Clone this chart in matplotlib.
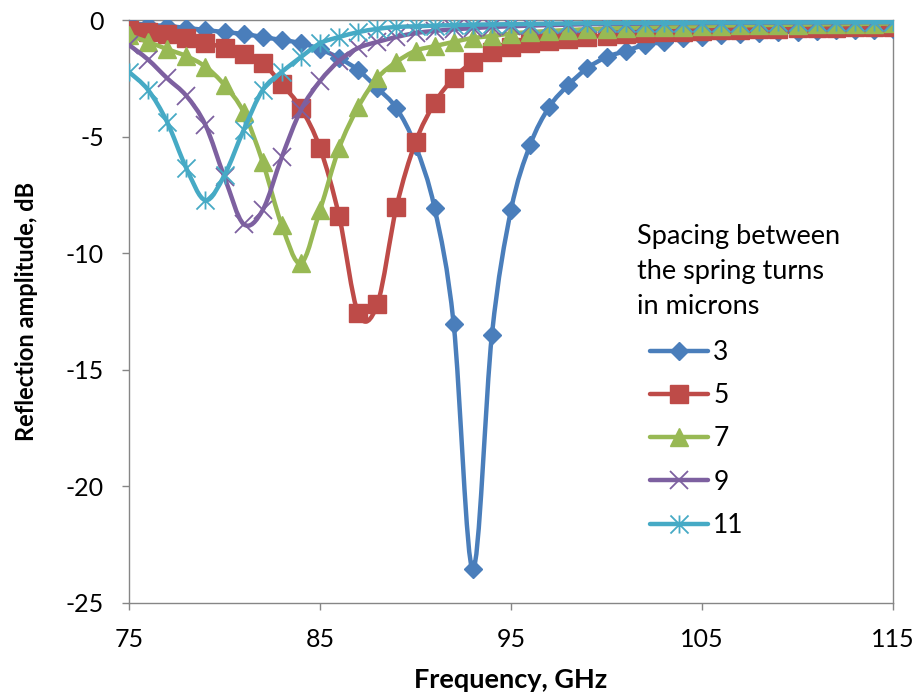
import numpy as np
import matplotlib
matplotlib.use("Agg")
import matplotlib.pyplot as plt
from matplotlib.path import Path
from matplotlib.patches import PathPatch
from matplotlib.lines import Line2D

plt.rcParams['font.family'] = ['Lato', 'DejaVu Sans']
plt.rcParams['axes.unicode_minus'] = False

freq = list(range(75, 116))

s3 = [-0.13, -0.21, -0.26, -0.34, -0.43, -0.52, -0.60, -0.73, -0.86, -0.99,
      -1.25, -1.63, -2.15, -2.92, -3.78, -5.40, -8.07, -13.05, -23.56, -13.50,
      -8.15, -5.36, -3.73, -2.79, -2.06, -1.59, -1.33, -1.07, -0.94, -0.77,
      -0.73, -0.64, -0.60, -0.56, -0.52, -0.50, -0.47, -0.45, -0.43, -0.42, -0.40]
s5 = [-0.45, -0.52, -0.60, -0.78, -0.97, -1.20, -1.45, -1.85, -2.75, -3.78,
      -5.49, -8.41, -12.58, -12.19, -8.03, -5.24, -3.56, -2.49, -1.80, -1.37,
      -1.16, -0.99, -0.88, -0.80, -0.73, -0.67, -0.62, -0.57, -0.53, -0.50,
      -0.47, -0.44, -0.42, -0.40, -0.38, -0.36, -0.34, -0.33, -0.31, -0.30, -0.29]
s7 = [-0.66, -0.94, -1.25, -1.55, -2.00, -2.79, -3.95, -6.09, -8.80, -10.43,
      -8.15, -5.49, -3.73, -2.49, -1.80, -1.32, -1.12, -0.94, -0.77, -0.69,
      -0.58, -0.52, -0.47, -0.43, -0.40, -0.37, -0.34, -0.32, -0.30, -0.28,
      -0.26, -0.24, -0.23, -0.22, -0.21, -0.20, -0.19, -0.18, -0.17, -0.16, -0.15]
s9 = [-1.07, -1.70, -2.50, -3.25, -4.50, -6.74, -8.75, -8.15, -5.88, -3.86,
      -2.62, -1.75, -1.20, -0.94, -0.73, -0.56, -0.47, -0.40, -0.35, -0.30,
      -0.27, -0.24, -0.22, -0.20, -0.18, -0.17, -0.16, -0.15, -0.14, -0.13,
      -0.13, -0.12, -0.12, -0.11, -0.11, -0.10, -0.10, -0.10, -0.09, -0.09, -0.09]
s11 = [-2.23, -3.00, -4.38, -6.35, -7.73, -6.65, -4.72, -3.00, -2.23, -1.59,
       -1.00, -0.73, -0.52, -0.38, -0.30, -0.27, -0.24, -0.22, -0.20, -0.19,
       -0.18, -0.17, -0.16, -0.15, -0.14, -0.14, -0.13, -0.13, -0.12, -0.12,
       -0.11, -0.11, -0.11, -0.10, -0.10, -0.10, -0.10, -0.09, -0.09, -0.09, -0.09]

series_labels = ['3', '5', '7', '9', '11']
series_values = [s3, s5, s7, s9, s11]
legend_title = 'Spacing between\nthe spring turns\nin microns'
x_ticks = [75, 85, 95, 105, 115]
y_ticks = [0, -5, -10, -15, -20, -25]

colors = ['#4A7EBB', '#BE4B48', '#98B954', '#7D60A0', '#46AAC5']
asterisk = Path([(-0.5, -0.5), (0.5, 0.5), (-0.5, 0.5), (0.5, -0.5), (0, -0.5), (0, 0.5)],
                [Path.MOVETO, Path.LINETO, Path.MOVETO, Path.LINETO, Path.MOVETO, Path.LINETO])
markers = [dict(marker='D', markersize=9.5),
           dict(marker='s', markersize=13),
           dict(marker='^', markersize=13),
           dict(marker='x', markersize=12.5, markeredgewidth=1.3),
           dict(marker=asterisk, markersize=13, markeredgewidth=1.3)]


def smooth_path(x, y):
    x = np.asarray(x, float)
    y = np.asarray(y, float)
    n = len(x)
    verts = [(x[0], y[0])]
    codes = [Path.MOVETO]
    for i in range(n - 1):
        i0 = max(i - 1, 0)
        i3 = min(i + 2, n - 1)
        c1 = (x[i] + (x[i + 1] - x[i0]) / 6.0, y[i] + (y[i + 1] - y[i0]) / 6.0)
        c2 = (x[i + 1] - (x[i3] - x[i]) / 6.0, y[i + 1] - (y[i3] - y[i]) / 6.0)
        verts += [c1, c2, (x[i + 1], y[i + 1])]
        codes += [Path.CURVE4] * 3
    return Path(verts, codes)


fig = plt.figure(figsize=(9.18, 6.97), dpi=100)
ax = fig.add_axes([129 / 918, 1 - 603 / 697, (893 - 129) / 918, (603 - 20) / 697])

LW = 3.2
handles = []
for k, (lab, vals, col, mk) in enumerate(zip(series_labels, series_values, colors, markers)):
    patch = PathPatch(smooth_path(freq, vals), fill=False, edgecolor=col, lw=LW,
                      capstyle='round', joinstyle='round', zorder=3 + 2 * k)
    ax.add_patch(patch)
    ax.plot(freq, vals, linestyle='none', color=col, markerfacecolor=col,
            markeredgecolor=col, zorder=4 + 2 * k, **mk)
    handles.append(Line2D([], [], color=col, lw=LW, solid_capstyle='round',
                          markerfacecolor=col, markeredgecolor=col, **mk))

ax.set_xlim(75, 115)
ax.set_ylim(-25, 0)
ax.set_xticks(x_ticks)
ax.set_yticks(y_ticks)
ax.set_xticklabels([str(v) for v in x_ticks])
ax.set_yticklabels([str(v) for v in y_ticks])
for sp in ax.spines.values():
    sp.set_color('#868686')
    sp.set_linewidth(1.0)
ax.tick_params(axis='both', direction='out', length=5, width=1.0, color='#868686',
               labelsize=18, labelcolor='black')
ax.tick_params(axis='x', pad=13)
ax.tick_params(axis='y', pad=13)

ax.set_xlabel('Frequency, GHz', fontsize=19.5, fontweight='bold', labelpad=12)
ax.set_ylabel('Reflection amplitude, dB', fontsize=17, fontweight='bold', labelpad=20)

fig.text(637 / 918, 1 - 224 / 697, legend_title, fontsize=19.5, ha='left', va='top',
         linespacing=1.5)
leg = ax.legend(handles=handles, labels=series_labels, loc='upper left',
                bbox_to_anchor=(650 / 918, 1 - 340 / 697), bbox_transform=fig.transFigure,
                frameon=False, fontsize=19, handlelength=2.2, handletextpad=0.2,
                labelspacing=0.69, borderpad=0, borderaxespad=0)

fig.savefig('out.png', dpi=100)
